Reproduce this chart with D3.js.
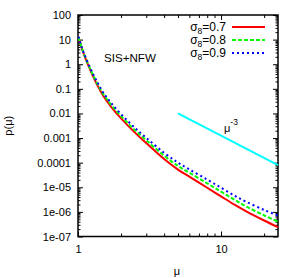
<!DOCTYPE html>
<html>
<head>
<meta charset="utf-8">
<script src="https://cdn.jsdelivr.net/npm/d3@7"></script>
<style>
  body { margin: 0; background: #fff; }
  text { font-family: "Liberation Sans", Arial, sans-serif; fill: #000; }
</style>
</head>
<body>
<script>
// magnification values
var mu = [1.01, 1.05, 1.1, 1.2, 1.3, 1.4, 1.5, 1.7, 2, 2.5, 3, 4, 5, 6, 8, 10, 12.5, 15, 20, 25];

// p(mu) for the three sigma_8 runs
var pSig07 = [12.6, 5.62, 2.51, 0.708, 0.251, 0.107, 0.0525, 0.0191, 0.00631, 0.00166,
    6.31e-4, 1.41e-4, 5.25e-5, 2.69e-5, 9.55e-6, 4.27e-6, 1.91e-6, 1.05e-6, 4.47e-7, 2.40e-7];
var pSig08 = [12.6, 5.75, 2.63, 0.776, 0.282, 0.123, 0.0617, 0.0229, 0.00776, 0.00209,
    8.13e-4, 1.91e-4, 7.41e-5, 3.89e-5, 1.45e-5, 6.61e-6, 3.02e-6, 1.66e-6, 7.24e-7, 3.98e-7];
var pSig09 = [13.2, 6.03, 2.82, 0.851, 0.316, 0.141, 0.0708, 0.0269, 0.00933, 0.00257,
    0.00102, 2.51e-4, 1.0e-4, 5.37e-5, 2.04e-5, 9.55e-6, 4.47e-6, 2.57e-6, 1.20e-6, 7.08e-7];

// reference power law mu^-3
var slopeMu = [5, 25];
var slopeP = [0.01, 8e-5];

var seriesNames = ["0.7", "0.8", "0.9"];
var yTickLabels = ["100", "10", "1", "0.1", "0.01", "0.001", "0.0001", "1e-05", "1e-06", "1e-07"];
var yTickValues = [1e2, 1e1, 1, 1e-1, 1e-2, 1e-3, 1e-4, 1e-5, 1e-6, 1e-7];
var xTickValues = [1, 10];
var xTickLabels = ["1", "10"];

var margin = {top: 15, right: 22, bottom: 41.5, left: 78},
    width = 300 - margin.left - margin.right,
    height = 278 - margin.top - margin.bottom;

var x = d3.scaleLog().domain([1, 25]).range([0, width]);
var y = d3.scaleLog().domain([1e-7, 100]).range([height, 0]);

var svg = d3.select("body").append("svg")
    .attr("width", 300)
    .attr("height", 278)
    .append("g")
    .attr("transform", "translate(" + margin.left + "," + margin.top + ")");

// minor tick positions
var yMinor = [];
yTickValues.slice(1).forEach(function (d) {
    for (var k = 2; k <= 9; k++) yMinor.push(d * k);
});
var xMinor = [2, 3, 4, 5, 6, 7, 8, 9, 20];

function noLabels(ax) { return ax.tickFormat(function () { return ""; }); }

// y axes (left labelled, right mirror)
svg.append("g")
    .call(d3.axisLeft(y).tickValues(yTickValues).tickSize(-5).tickPadding(7)
        .tickFormat(function (d, i) { return yTickLabels[i]; }));
svg.append("g")
    .call(noLabels(d3.axisLeft(y).tickValues(yMinor).tickSize(-2.5)));
svg.append("g").attr("transform", "translate(" + width + ",0)")
    .call(noLabels(d3.axisRight(y).tickValues(yTickValues).tickSize(-5)));
svg.append("g").attr("transform", "translate(" + width + ",0)")
    .call(noLabels(d3.axisRight(y).tickValues(yMinor).tickSize(-2.5)));

// x axes (bottom labelled, top mirror)
svg.append("g").attr("transform", "translate(0," + height + ")")
    .call(d3.axisBottom(x).tickValues(xTickValues).tickSize(-5).tickPadding(9)
        .tickFormat(function (d, i) { return xTickLabels[i]; }));
svg.append("g").attr("transform", "translate(0," + height + ")")
    .call(noLabels(d3.axisBottom(x).tickValues(xMinor).tickSize(-3)));
svg.append("g")
    .call(noLabels(d3.axisTop(x).tickValues(xTickValues).tickSize(-5)));
svg.append("g")
    .call(noLabels(d3.axisTop(x).tickValues(xMinor).tickSize(-3)));

svg.selectAll(".domain").remove();
svg.selectAll(".tick line").attr("stroke", "#000").attr("stroke-width", 1);
svg.selectAll(".tick text").style("font-size", "11px").style("font-family", "Liberation Sans, Arial, sans-serif");

// frame
svg.append("rect")
    .attr("width", width).attr("height", height)
    .attr("fill", "none").attr("stroke", "#000").attr("stroke-width", 1.5);

var line = d3.line()
    .x(function (d) { return x(d[0]); })
    .y(function (d) { return y(d[1]); })
    .curve(d3.curveCatmullRom.alpha(0.5));

var styles = [
    {color: "#ff0000", dash: null},
    {color: "#00ff00", dash: "4,2"},
    {color: "#0000ff", dash: "2,3"}
];
var series = [pSig07, pSig08, pSig09];

svg.append("path")
    .datum(d3.zip(slopeMu, slopeP))
    .attr("d", line)
    .attr("fill", "none")
    .attr("stroke", "#00ffff")
    .attr("stroke-width", 2);

series.forEach(function (s, i) {
    svg.append("path")
        .datum(d3.zip(mu, s))
        .attr("d", line)
        .attr("fill", "none")
        .attr("stroke", styles[i].color)
        .attr("stroke-width", 2)
        .attr("stroke-dasharray", styles[i].dash);
});

// legend
var legend = svg.append("g").attr("transform", "translate(148,16)");
seriesNames.forEach(function (name, i) {
    var row = legend.append("g").attr("transform", "translate(0," + (i * 13) + ")");
    var t = row.append("text").attr("text-anchor", "end").style("font-size", "12px");
    t.append("tspan").text("σ");
    t.append("tspan").attr("dy", 3).style("font-size", "8.5px").text("8");
    t.append("tspan").attr("dy", -3).text("=" + name);
    row.append("line")
        .attr("x1", 6).attr("x2", 39).attr("y1", -4).attr("y2", -4)
        .attr("stroke", styles[i].color).attr("stroke-width", 2)
        .attr("stroke-dasharray", styles[i].dash);
});

svg.append("text")
    .attr("x", 26).attr("y", 47)
    .style("font-size", "11.6px")
    .text("SIS+NFW");

var slopeLabel = svg.append("text")
    .attr("x", 146).attr("y", 117)
    .style("font-size", "11px");
slopeLabel.append("tspan").text("μ");
slopeLabel.append("tspan").attr("dy", -7).style("font-size", "8.5px").text("-3");

// axis titles
svg.append("text")
    .attr("transform", "translate(-66," + (height / 2) + ") rotate(-90)")
    .attr("text-anchor", "middle")
    .style("font-size", "11px")
    .text("p(μ)");

svg.append("text")
    .attr("x", width / 2 - 1).attr("y", height + 38)
    .attr("text-anchor", "middle")
    .style("font-size", "11px")
    .text("μ");
</script>
</body>
</html>
